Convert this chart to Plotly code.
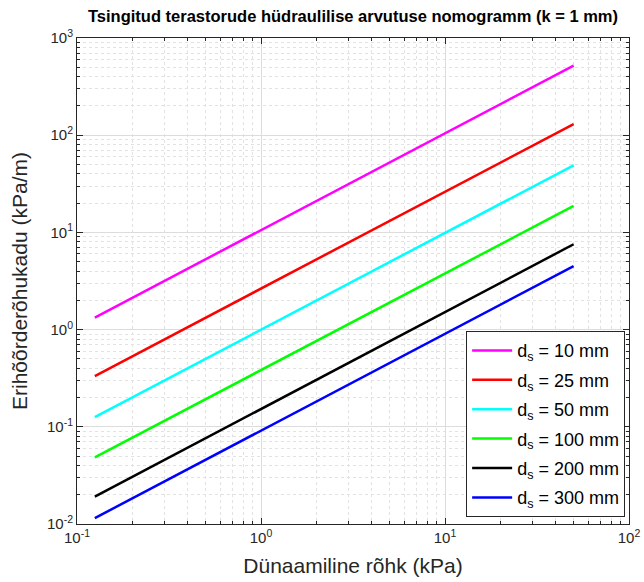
import plotly.graph_objects as go

# Data
x_kpa = [0.125, 50]
series_names = ["10", "25", "50", "100", "200", "300"]
series_values = {
    "10": [1.33, 520],
    "25": [0.333, 130],
    "50": [0.126, 49],
    "100": [0.0485, 18.7],
    "200": [0.0191, 7.55],
    "300": [0.0115, 4.5],
}
colors = ["#ff00ff", "#ff0000", "#00ffff", "#00ff00", "#000000", "#0000ff"]

x_tickvals = [0.1, 1, 10, 100]
x_ticktext = ["10<sup>-1</sup>", "10<sup>0</sup>", "10<sup>1</sup>", "10<sup>2</sup>"]
y_tickvals = [0.01, 0.1, 1, 10, 100, 1000]
y_ticktext = ["10<sup>-2</sup>", "10<sup>-1</sup>", "10<sup>0</sup>", "10<sup>1</sup>",
              "10<sup>2</sup>", "10<sup>3</sup>"]

FONT = "Arial, Liberation Sans, Helvetica, sans-serif"
AXC = "#262626"

fig = go.Figure()
for name, c in zip(series_names, colors):
    fig.add_trace(go.Scatter(
        x=x_kpa, y=series_values[name], mode="lines",
        line=dict(color=c, width=2.5),
        name=f"d<sub>s</sub> = {name} mm",
        legendgroup=name,
    ))

axis_common = dict(
    type="log", showline=True, linecolor=AXC, linewidth=1, mirror="allticks",
    ticks="inside", ticklen=6, tickcolor=AXC,
    showgrid=True, gridcolor="#dcdcdc", gridwidth=1,
    zeroline=False, automargin=False,
    tickfont=dict(family=FONT, size=15, color=AXC),
    minor=dict(dtick="D1", ticks="inside", ticklen=3, tickcolor=AXC,
               showgrid=True, gridcolor="#e2e2e2", griddash="dot", gridwidth=1),
)

fig.update_layout(
    width=644, height=582,
    margin=dict(l=77, r=15, t=38, b=58),
    paper_bgcolor="white", plot_bgcolor="white",
    font=dict(family=FONT, color=AXC),
    title=dict(text="<b>Tsingitud terastorude hüdraulilise arvutuse nomogramm (k = 1 mm)</b>",
               x=(77 + 629) / 2 / 644, xanchor="center", y=1 - 16 / 582, yanchor="middle",
               font=dict(family=FONT, size=16.5, color="#000000")),
    xaxis=dict(axis_common, range=[-1, 2], tickvals=x_tickvals, ticktext=x_ticktext,
               title=dict(text="Dünaamiline rõhk (kPa)", font=dict(family=FONT, size=21, color=AXC),
                          standoff=13)),
    yaxis=dict(axis_common, range=[-2, 3], tickvals=y_tickvals, ticktext=y_ticktext,
               title=dict(text="Erihõõrderõhukadu (kPa/m)", font=dict(family=FONT, size=21, color=AXC),
                          standoff=13)),
    legend=dict(x=0.993, y=0.014, xanchor="right", yanchor="bottom",
                bgcolor="white", bordercolor="#262626", borderwidth=1,
                font=dict(family=FONT, size=18, color="#000000"),
                itemwidth=40, tracegroupgap=3),
    showlegend=True,
)

fig.write_html("out.html")
